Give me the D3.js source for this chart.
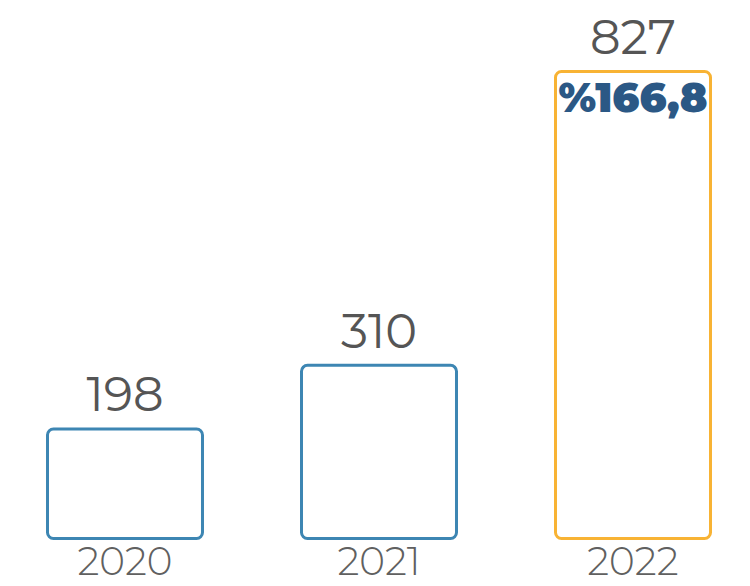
<!DOCTYPE html>
<html>
<head>
<meta charset="utf-8">
<script src="https://cdn.jsdelivr.net/npm/d3@7"></script>
<style>
  body { margin: 0; background: #fff; }
  text { font-family: "Montserrat", "Inter", "Open Sans", sans-serif; }
</style>
</head>
<body>
<div id="chart"></div>
<script>
// chart data
var years = ["2020", "2021", "2022"];
var values = [198, 310, 827];
var barColors = ["#3d86b3", "#3d86b3", "#f8b334"];
var growthLabel = "%166,8";

var width = 750, height = 586;
var margin = {top: 70, right: 38, bottom: 46, left: 46};

var svg = d3.select("#chart").append("svg")
    .attr("width", width)
    .attr("height", height);

var x = d3.scaleBand()
    .domain(years)
    .range([margin.left, width - margin.right])
    .paddingInner(0.378)
    .paddingOuter(0);

var y = d3.scaleLinear()
    .domain([0, 827])
    .range([height - margin.bottom, margin.top]);

var sw = 3;

// bars (outlined only)
svg.selectAll("rect.bar")
    .data(values)
  .enter().append("rect")
    .attr("class", "bar")
    .attr("x", function(d, i) { return x(years[i]) + sw / 2; })
    .attr("y", function(d) { return y(d) + sw / 2; })
    .attr("width", x.bandwidth() - sw)
    .attr("height", function(d) { return y(0) - y(d) - sw; })
    .attr("rx", 6)
    .attr("fill", "none")
    .attr("stroke", function(d, i) { return barColors[i]; })
    .attr("stroke-width", sw);

// value labels
svg.selectAll("text.value")
    .data(values)
  .enter().append("text")
    .attr("class", "value")
    .attr("x", function(d, i) { return x(years[i]) + x.bandwidth() / 2; })
    .attr("y", function(d) { return y(d) - 16; })
    .attr("text-anchor", "middle")
    .attr("font-size", 48)
    .attr("fill", "#555555")
    .text(function(d) { return d; });

// year labels
svg.selectAll("text.year")
    .data(years)
  .enter().append("text")
    .attr("class", "year")
    .attr("x", function(d) { return x(d) + x.bandwidth() / 2; })
    .attr("y", 575)
    .attr("text-anchor", "middle")
    .attr("font-size", 39)
    .attr("font-weight", 300)
    .attr("fill", "#606060")
    .text(function(d) { return d; });

// growth label inside last bar
svg.append("text")
    .attr("x", x("2022") + x.bandwidth() / 2)
    .attr("y", y(827) + 42)
    .attr("text-anchor", "middle")
    .attr("font-size", 41)
    .attr("font-weight", 900)
    .attr("fill", "#2b5885")
    .text(growthLabel);
</script>
</body>
</html>
